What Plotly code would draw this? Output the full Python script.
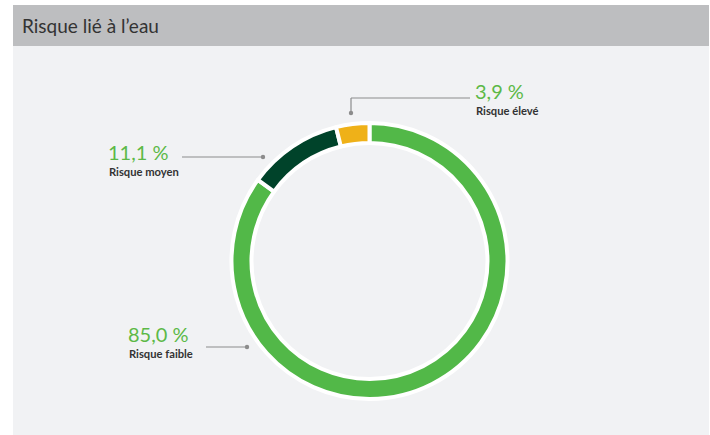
import plotly.graph_objects as go

categories = ["Risque faible", "Risque moyen", "Risque élevé"]
values = [85.0, 11.1, 3.9]
value_labels = ["85,0 %", "11,1 %", "3,9 %"]
colors = ["#52b848", "#00432a", "#efb118"]
title_text = "Risque lié à l’eau"

W, H = 710, 435
cx, cy, R = 369.5, 261.0, 138.0
FONT = "Lato"

def px(x):
    return x / W

def py(y):
    return 1 - y / H

fig = go.Figure()
fig.add_trace(go.Pie(
    labels=categories,
    values=values,
    hole=0.855,
    sort=False,
    direction="clockwise",
    rotation=0,
    marker=dict(colors=colors, line=dict(color="white", width=4)),
    textinfo="none",
    hoverinfo="label+percent",
    showlegend=False,
    domain=dict(x=[px(cx - R), px(cx + R)], y=[py(cy + R), py(cy - R)]),
))

shapes = [
    dict(type="rect", xref="paper", yref="paper", x0=px(13), x1=px(709), y0=py(46), y1=py(5),
         fillcolor="#bdbec0", line=dict(width=0), layer="below"),
    dict(type="rect", xref="paper", yref="paper", x0=px(13), x1=px(709), y0=0, y1=py(46),
         fillcolor="#f1f2f4", line=dict(width=0), layer="below"),
]

line_col = "#8c8c8c"
leaders = [
    [(206, 347), (247, 347)],
    [(182, 157), (263, 157)],
    [(470, 98), (351, 98), (351, 113)],
]
dots = [(247, 347), (263, 157), (351, 113)]
for pts in leaders:
    for (x0, y0), (x1, y1) in zip(pts[:-1], pts[1:]):
        shapes.append(dict(type="line", xref="paper", yref="paper",
                           x0=px(x0), y0=py(y0), x1=px(x1), y1=py(y1),
                           line=dict(color=line_col, width=1.2)))
for (x, y) in dots:
    shapes.append(dict(type="circle", xref="paper", yref="paper",
                       x0=px(x - 2.2), x1=px(x + 2.2), y0=py(y + 2.2), y1=py(y - 2.2),
                       fillcolor=line_col, line=dict(width=0)))

annotations = [
    dict(text=title_text, x=px(20), y=py(26), xref="paper", yref="paper",
         xanchor="left", yanchor="middle", showarrow=False,
         font=dict(family=FONT, size=19, color="#333333")),
]
VS, LS = 20, 11.2
# (x, value baseline, label baseline)
label_pos = [(127, 342, 357.5), (107, 160, 175.5), (474, 99, 114.5)]
for i, (lx, vb, lb) in enumerate(label_pos):
    annotations.append(dict(text=value_labels[i], x=px(lx), y=py(vb - 0.387 * VS), xref="paper", yref="paper",
                            xanchor="left", yanchor="middle", showarrow=False, borderpad=0,
                            font=dict(family=FONT, size=VS, color="#5cb947")))
    annotations.append(dict(text="<b>" + categories[i] + "</b>", x=px(lx + 1), y=py(lb - 0.387 * LS),
                            xref="paper", yref="paper",
                            xanchor="left", yanchor="middle", showarrow=False, borderpad=0,
                            font=dict(family=FONT, size=LS, color="#333333")))

fig.update_layout(
    width=W, height=H,
    margin=dict(l=0, r=0, t=0, b=0),
    paper_bgcolor="white",
    plot_bgcolor="white",
    shapes=shapes,
    annotations=annotations,
)

fig.write_html("out.html", config={"displayModeBar": False},
               post_script="document.body.style.margin='0';document.body.style.overflow='hidden';")
